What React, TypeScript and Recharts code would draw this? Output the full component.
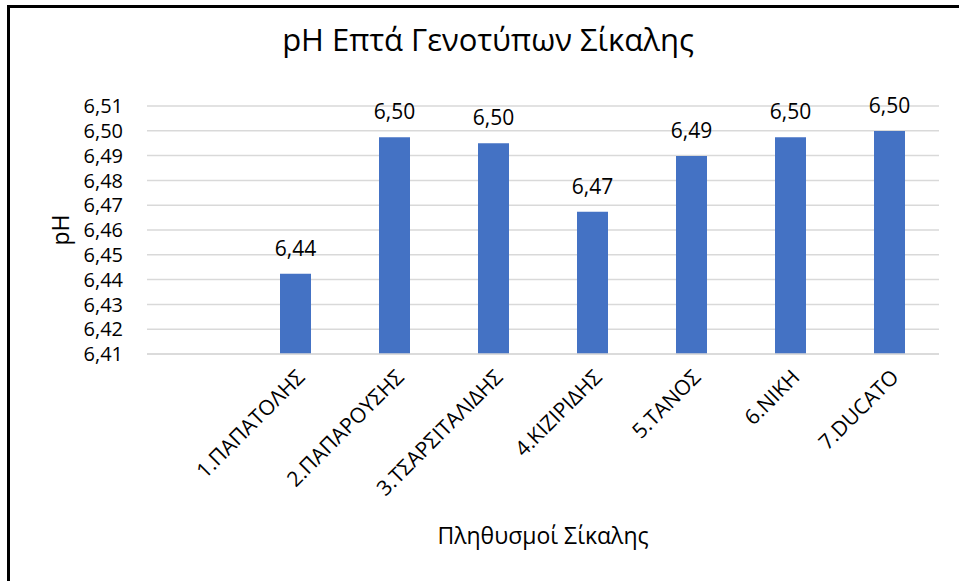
import React from 'react';
import { BarChart, Bar, XAxis, YAxis, CartesianGrid, LabelList } from 'recharts';

// rye populations (first slot is an empty row in the source sheet)
const populations = ['', '1.ΠΑΠΑΤΟΛΗΣ', '2.ΠΑΠΑΡΟΥΣΗΣ', '3.ΤΣΑΡΣΙΤΑΛΙΔΗΣ', '4.ΚΙΖΙΡΙΔΗΣ', '5.ΤΑΝΟΣ', '6.ΝΙΚΗ', '7.DUCATO'];
const phValues: (number | null)[] = [null, 6.4424, 6.4974, 6.495, 6.4674, 6.4898, 6.4974, 6.4999];
const yTicks = [6.41, 6.42, 6.43, 6.44, 6.45, 6.46, 6.47, 6.48, 6.49, 6.5, 6.51];

const data = populations.map((name, i) => ({ name, ph: phValues[i] }));

const FONT = '"Open Sans", sans-serif';
const comma = (v: any) => (v == null ? '' : Number(v).toFixed(2).replace('.', ','));

const App: React.FC = () => {
  return (
    <div style={{ position: 'absolute', left: 0, top: 0, width: 959, height: 581, background: '#fff', overflow: 'hidden', fontFamily: FONT }}>
      {/* frame */}
      <div style={{ position: 'absolute', left: 7, top: 5, width: 1000, height: 700, borderLeft: '3px solid #000', borderTop: '3px solid #000' }} />
      <div style={{ position: 'absolute', left: 0, width: 976, top: 24, textAlign: 'center', fontSize: 31, lineHeight: '31px', color: '#000' }}>
        pH Επτά Γενοτύπων Σίκαλης
      </div>
      <div style={{ position: 'absolute', left: 0, top: 0 }}>
        <BarChart width={959} height={581} data={data} margin={{ top: 106, right: 20, bottom: 27, left: 40 }}>
          <CartesianGrid vertical={false} stroke="#d9d9d9" strokeWidth={1.5} />
          <XAxis
            dataKey="name"
            interval={0}
            height={200}
            tickLine={false}
            axisLine={{ stroke: '#d9d9d9', strokeWidth: 1.5 }}
            tickSize={0}
            tickMargin={14}
            angle={-45}
            textAnchor="end"
            tick={{ fontSize: 21, fill: '#000', fontFamily: FONT }}
            label={{ value: 'Πληθυσμοί Σίκαλης', position: 'insideBottom', offset: 10, fontSize: 23, fill: '#000', fontFamily: FONT }}
          />
          <YAxis
            domain={[6.41, 6.51]}
            ticks={yTicks}
            interval={0}
            allowDataOverflow
            width={107}
            tickLine={false}
            axisLine={false}
            tickSize={0}
            tickMargin={24}
            tickFormatter={comma}
            tick={{ fontSize: 20, fill: '#000', fontFamily: FONT }}
            label={{ value: 'pH', angle: -90, position: 'insideLeft', offset: 21, fontSize: 23, fill: '#000', fontFamily: FONT, style: { textAnchor: 'middle' } }}
          />
          <Bar dataKey="ph" fill="#4472c4" barSize={31} isAnimationActive={false}>
            <LabelList dataKey="ph" position="top" offset={18} formatter={comma} style={{ fontSize: 21, fill: '#000', fontFamily: FONT }} />
          </Bar>
        </BarChart>
      </div>
    </div>
  );
};

export default App;
